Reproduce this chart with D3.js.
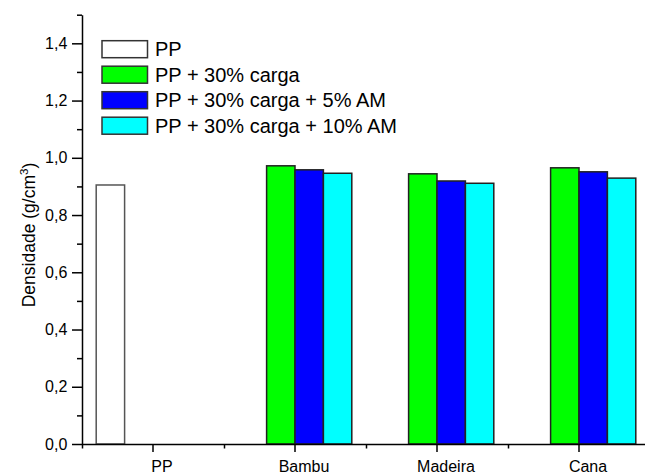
<!DOCTYPE html>
<html>
<head>
<meta charset="utf-8">
<script src="https://cdn.jsdelivr.net/npm/d3@7"></script>
<style>
  html, body { margin: 0; padding: 0; background: #fff; }
  svg { display: block; font-family: Arial, "Liberation Sans", sans-serif; }
</style>
</head>
<body>
<svg id="chart" width="645" height="474"></svg>
<script>
// Material categories along the x axis
const categories = ["PP", "Bambu", "Madeira", "Cana"];

// Series (legend entries) and their fill colours
const seriesNames = ["PP", "PP + 30% carga", "PP + 30% carga + 5% AM", "PP + 30% carga + 10% AM"];
const seriesColors = ["#ffffff", "#00ff00", "#0000ff", "#00ffff"];

// Density values (g/cm³) per series, one entry per category (null = no bar)
const valuesPP      = [0.905, null, null, null];
const valuesCarga   = [null, 0.972, 0.944, 0.965];
const valuesAM5     = [null, 0.958, 0.919, 0.951];
const valuesAM10    = [null, 0.946, 0.911, 0.929];

// Y axis tick values
const yMajorTicks = [0.0, 0.2, 0.4, 0.6, 0.8, 1.0, 1.2, 1.4];
const yMinorTicks = [0.1, 0.3, 0.5, 0.7, 0.9, 1.1, 1.3, 1.5];

const seriesValues = [valuesPP, valuesCarga, valuesAM5, valuesAM10];

const svg = d3.select("#chart");
const plotLeft = 82, plotBottom = 444, plotTop = 14.7;
const catStep = 142;

const x = d3.scaleBand()
  .domain(categories)
  .range([plotLeft, plotLeft + catStep * categories.length])
  .paddingInner(0).paddingOuter(0);

const xInner = d3.scaleBand()
  .domain(d3.range(seriesNames.length))
  .range([x.bandwidth() * 0.1, x.bandwidth() * 0.9])
  .padding(0);

const y = d3.scaleLinear().domain([0, 1.5]).range([plotBottom, plotTop]);

const fmt = v => d3.format(".1f")(v).replace(".", ",");

// Bars
const barData = [];
seriesValues.forEach((vals, si) => {
  vals.forEach((v, ci) => {
    if (v !== null) barData.push({ cat: categories[ci], s: si, v });
  });
});

svg.append("g").selectAll("rect")
  .data(barData)
  .join("rect")
  .attr("x", d => x(d.cat) + xInner(d.s))
  .attr("y", d => y(d.v))
  .attr("width", xInner.bandwidth())
  .attr("height", d => y(0) - y(d.v))
  .attr("fill", d => seriesColors[d.s])
  .attr("stroke", d => d.s === 0 ? "#555" : "#222")
  .attr("stroke-width", 1.5);

// Y axis: minor ticks
svg.append("g")
  .attr("transform", `translate(${plotLeft},0)`)
  .call(d3.axisLeft(y).tickValues(yMinorTicks).tickSize(5).tickFormat(""))
  .call(g => g.select(".domain").remove())
  .call(g => g.selectAll("line").attr("stroke", "#000").attr("stroke-width", 1.5));

// Y axis: major ticks with labels
svg.append("g")
  .attr("transform", `translate(${plotLeft},0)`)
  .call(d3.axisLeft(y).tickValues(yMajorTicks).tickSize(10).tickPadding(4.7).tickSizeOuter(0).tickFormat(fmt))
  .call(g => g.select(".domain").attr("stroke", "#000").attr("stroke-width", 1.5))
  .call(g => g.selectAll("line").attr("stroke", "#000").attr("stroke-width", 1.5))
  .call(g => g.selectAll("text").attr("font-size", 16).attr("fill", "#000")
    .attr("font-family", "Arial, 'Liberation Sans', sans-serif"));

// X axis: minor ticks between categories
const xMinor = d3.scaleLinear().domain([0, categories.length]).range(x.range());
svg.append("g")
  .attr("transform", `translate(0,${plotBottom})`)
  .call(d3.axisBottom(xMinor).tickValues(d3.range(0, categories.length + 1)).tickSize(4.5).tickFormat(""))
  .call(g => g.select(".domain").remove())
  .call(g => g.selectAll("line").attr("stroke", "#000").attr("stroke-width", 1.5));

// X axis: category ticks with labels
svg.append("g")
  .attr("transform", `translate(0,${plotBottom})`)
  .call(d3.axisBottom(x).tickSize(8).tickPadding(8.3).tickSizeOuter(0))
  .call(g => g.select(".domain").attr("stroke", "#000").attr("stroke-width", 1.5))
  .call(g => g.selectAll("line").attr("stroke", "#000").attr("stroke-width", 1.5))
  .call(g => g.selectAll("text").attr("font-size", 16).attr("fill", "#000").attr("dx", 9)
    .attr("font-family", "Arial, 'Liberation Sans', sans-serif"));

// Y axis title with superscript
const yTitle = svg.append("text")
  .attr("transform", "translate(35,235) rotate(-90)")
  .attr("text-anchor", "middle")
  .attr("font-size", 17.5)
  .attr("fill", "#000");
yTitle.append("tspan").text("Densidade (g/cm");
yTitle.append("tspan").attr("font-size", 11.5).attr("dy", -7.5).text("3");
yTitle.append("tspan").attr("dy", 7.5).text(")");

// Legend
const legend = svg.append("g").attr("transform", "translate(102,40.7)");
const item = legend.selectAll("g")
  .data(seriesNames)
  .join("g")
  .attr("transform", (d, i) => `translate(0,${i * 25.5})`);
item.append("rect")
  .attr("width", 45.5).attr("height", 17)
  .attr("fill", (d, i) => seriesColors[i])
  .attr("stroke", "#333").attr("stroke-width", 1.5);
item.append("text")
  .attr("x", 53).attr("y", 15.5)
  .attr("font-size", 20).attr("fill", "#000")
  .text(d => d);
</script>
</body>
</html>
